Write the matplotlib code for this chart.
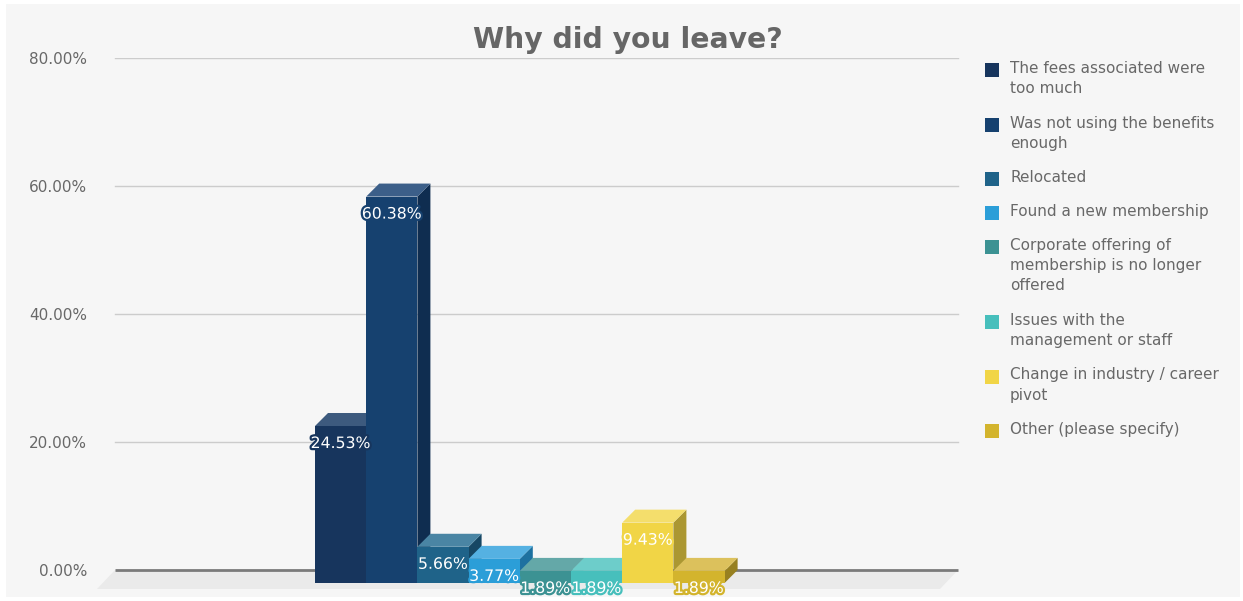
import matplotlib
matplotlib.use("Agg")
import matplotlib.pyplot as plt
from matplotlib.patches import Rectangle, Polygon
import matplotlib.patheffects as pe

# ---- data ----
categories = [
    "The fees associated were\ntoo much",
    "Was not using the benefits\nenough",
    "Relocated",
    "Found a new membership",
    "Corporate offering of\nmembership is no longer\noffered",
    "Issues with the\nmanagement or staff",
    "Change in industry / career\npivot",
    "Other (please specify)",
]
values = [24.53, 60.38, 5.66, 3.77, 1.89, 1.89, 9.43, 1.89]
y_ticks = [0, 20, 40, 60, 80]
y_tick_labels = ["0.00%", "20.00%", "40.00%", "60.00%", "80.00%"]

front_colors = ["#17355d", "#16416f", "#1f6389", "#2b9ed8", "#3c9293", "#47bfbc", "#f1d546", "#d3b42d"]
top_colors = ["#3d5a7e", "#3c5f89", "#4a85a4", "#55b1e2", "#64a8a8", "#6dcdca", "#f4de6c", "#dcc15c"]
side_colors = ["#0f2746", "#0f2d50", "#164764", "#1d71a0", "#2b6a6b", "#338a88", "#ab9732", "#978020"]

TEXT = "#686868"

# ---- layout (pixels) ----
W, H = 1243, 601
fig = plt.figure(figsize=(W / 100, H / 100), dpi=100)
fig.patch.set_facecolor("white")
fig.patches.append(Rectangle((6 / W, 4 / H), (1240 - 6) / W, (597 - 4) / H,
                             transform=fig.transFigure, facecolor="#f6f6f6",
                             edgecolor="none", zorder=-10))

ax_left, ax_right, ax_top, ax_bottom = 95, 960, 58, 592
ax = fig.add_axes([ax_left / W, (H - ax_bottom) / H,
                   (ax_right - ax_left) / W, (ax_bottom - ax_top) / H])
ax.set_facecolor("none")

px_per_unit = 51.2          # horizontal pixels per bar slot
px_per_pct = 6.4            # vertical pixels per percentage point
bar0_back_left = 328        # pixel of first bar's rear left edge
grid_left, grid_right = 115, 958

def px_to_x(p):
    return -0.5 + (p - bar0_back_left) / px_per_unit

x_lo = px_to_x(ax_left)
x_hi = px_to_x(ax_right)
ax.set_xlim(x_lo, x_hi)
y_top = 80
ax.set_ylim(y_top - (ax_bottom - ax_top) / px_per_pct, y_top)
ax.axis("off")

gx0, gx1 = px_to_x(grid_left), px_to_x(grid_right)

# floor
fdx = 18 / px_per_unit
fdy = 19 / px_per_pct
ax.add_patch(Polygon([(gx0, 0), (gx1, 0), (gx1 - fdx, -fdy), (gx0 - fdx, -fdy)],
                     closed=True, facecolor="#eaeaea", edgecolor="none", zorder=1))

# gridlines and y labels
for t, lab in zip(y_ticks, y_tick_labels):
    if t == 0:
        ax.plot([gx0, gx1], [t, t], color="#7a7a7a", lw=2, zorder=2, solid_capstyle="butt")
    else:
        ax.plot([gx0, gx1], [t, t], color="#cccccc", lw=1, zorder=2)
    fig.text(87 / W, 1 - (571.5 - t * px_per_pct) / H, lab, ha="right", va="center",
             fontsize=11, color=TEXT)

# 3D bars
ddx = 13 / px_per_unit
ddy = 13 / px_per_pct
for i, v in enumerate(values):
    xl, xr = i - 0.5, i + 0.5
    # side face
    ax.add_patch(Polygon([(xr - ddx, -ddy), (xr, 0), (xr, v), (xr - ddx, v - ddy)],
                         closed=True, facecolor=side_colors[i], edgecolor="none", zorder=3 + i))
    # top face
    ax.add_patch(Polygon([(xl - ddx, v - ddy), (xr - ddx, v - ddy), (xr, v), (xl, v)],
                         closed=True, facecolor=top_colors[i], edgecolor="none", zorder=3 + i))
    # front face
    ax.add_patch(Rectangle((xl - ddx, -ddy), 1, v, facecolor=front_colors[i],
                           edgecolor="none", zorder=3 + i))

# value labels
for i, v in enumerate(values):
    ax.text(i - ddx, v - ddy - 17.5 / px_per_pct, f"{v:.2f}%", ha="center", va="center",
            fontsize=11.3, color="white", zorder=20,
            path_effects=[pe.withStroke(linewidth=3.2, foreground=front_colors[i])])

# title
fig.text(628 / W, 1 - 40 / H, "Why did you leave?", ha="center", va="center",
         fontsize=20.3, fontweight="bold", color="#666666")

# legend
line_px = 20.5
gap_px = 13.5
y = 70
for i, lab in enumerate(categories):
    fig.patches.append(Rectangle((985 / W, 1 - (y + 7) / H), 14 / W, 14 / H,
                                 transform=fig.transFigure, facecolor=front_colors[i],
                                 edgecolor="none"))
    fig.text(1010 / W, 1 - (y - 9) / H, lab, ha="left", va="top", fontsize=11,
             color=TEXT, linespacing=1.42)
    nlines = lab.count("\n") + 1
    y += nlines * line_px + gap_px

fig.savefig("out.png", dpi=100)
